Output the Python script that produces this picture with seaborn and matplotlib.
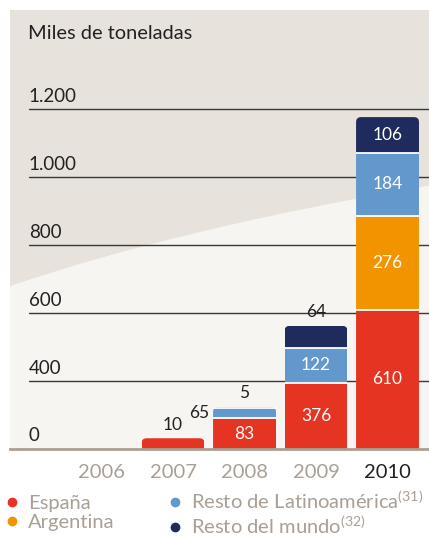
import numpy as np
import matplotlib
matplotlib.use('Agg')
import matplotlib.pyplot as plt
import seaborn as sns
from matplotlib.patches import FancyBboxPatch, PathPatch
from matplotlib.path import Path
from matplotlib.lines import Line2D
from matplotlib.transforms import Bbox, IdentityTransform

# data (miles de toneladas)
years = ['2006', '2007', '2008', '2009', '2010']
series = ['España', 'Argentina', 'Resto de Latinoamérica', 'Resto del mundo']
espana = [0, 10, 83, 376, 610]
argentina = [0, 0, 0, 0, 276]
resto_latam = [0, 0, 65, 122, 184]
resto_mundo = [0, 0, 5, 64, 106]
notes = ['', '', '(31)', '(32)']
grid_values = [400, 600, 800, 1000, 1200]
grid_labels = ['400', '600', '800', '1.000', '1.200']

colors = ['#e53422', '#f29400', '#6398cd', '#1f2b5c']
GREY = '#a99f95'
DARK = '#222222'

sns.set_theme(style='white')
plt.rcParams['font.family'] = ['Lato', 'DejaVu Sans']
plt.rcParams['mathtext.fontset'] = 'custom'
plt.rcParams['mathtext.rm'] = 'Lato'


# broken axis like the original: compressed below 400, linear above
def fwd(v):
    v = np.asarray(v, dtype=float)
    low = 68 * np.sqrt(np.clip(v, 0, None) / 400)
    return np.where(v < 400, low, 68 + (v - 400) * 0.34)


def inv(p):
    p = np.asarray(p, dtype=float)
    low = 400 * (np.clip(p, 0, None) / 68) ** 2
    return np.where(p < 68, low, 400 + (p - 68) / 0.34)


fig = plt.figure(figsize=(4.29, 5.37), dpi=100)
ax = fig.add_axes([10 / 429, 88 / 537, 419 / 429, 439 / 537])
ax.set_facecolor('#e7e2dc')

# lighter curved area in the lower part of the panel
curve = Path([(0, 0.371), (0.4, 0.502), (1, 0.60), (1, 0), (0, 0), (0, 0.371)],
             [Path.MOVETO, Path.CURVE3, Path.CURVE3, Path.LINETO, Path.LINETO, Path.CLOSEPOLY])
ax.add_patch(PathPatch(curve, transform=ax.transAxes, facecolor='#f7f5f1',
                       edgecolor='none', zorder=0))

stack = [espana, argentina, resto_latam, resto_mundo]
bottoms = np.zeros(len(years))
for vals, col in zip(stack, colors):
    sns.barplot(x=years, y=vals, bottom=bottoms.copy(), color=col, saturation=1,
                width=0.88, linewidth=0, errorbar=None, ax=ax, zorder=2)
    bottoms += np.array(vals)

ax.set_yscale('function', functions=(fwd, inv))
ax.set_ylim(0, 1491)
ax.set_xlim(-1.28, 4.58)
ax.set_yticks([])
ax.set_xlabel('')
ax.set_ylabel('')

for y, lab in zip(grid_values, grid_labels):
    ax.axhline(y, xmin=0.045, xmax=1, color='#383838', lw=1, zorder=1)
    ax.annotate(lab, xy=(0.045, y), xycoords=('axes fraction', 'data'),
                xytext=(0, 5), textcoords='offset points', va='baseline',
                ha='left', fontsize=13.5, color=DARK)
ax.annotate('0', xy=(0.045, 0), xycoords=('axes fraction', 'data'),
            xytext=(0, 6), textcoords='offset points', va='baseline',
            ha='left', fontsize=13.5, color=DARK)

for side in ['top', 'left', 'right']:
    ax.spines[side].set_visible(False)
ax.spines['bottom'].set_color('#ab9f93')
ax.spines['bottom'].set_linewidth(2)

ax.set_xticks(range(len(years)))
ax.set_xticklabels(years, fontsize=14.5, color=GREY)
ax.get_xticklabels()[-1].set_color(DARK)
ax.tick_params(axis='x', length=0, pad=11)

fig.text(28 / 429, 1 - 39 / 537, 'Miles de toneladas', fontsize=14.4,
         color=DARK, va='baseline', ha='left')

# separators, value labels and rounded tops
for i in range(len(years)):
    patches = [ax.containers[k][i] for k in range(len(stack)) if stack[k][i] > 0]
    if not patches:
        continue
    base = 0
    n_on = 0
    tops = [k for k in range(len(stack)) if stack[k][i] > 0]
    for k in range(len(stack)):
        v = stack[k][i]
        if v <= 0:
            continue
        bar = ax.containers[k][i]
        xc = bar.get_x() + bar.get_width() / 2
        if n_on > 0:
            ax.hlines(base, bar.get_x(), bar.get_x() + bar.get_width(),
                      color='white', lw=1.3, zorder=3)
        px = fwd(base + v) - fwd(base)
        if px > 25:
            ym = float(inv((fwd(base) + fwd(base + v)) / 2))
            ax.text(xc, ym, str(v), ha='center', va='center', color='white',
                    fontsize=12.5, zorder=4)
        elif k == tops[-1]:
            ax.annotate(str(v), xy=(xc, base + v), xytext=(0, 4),
                        textcoords='offset points', ha='center', va='bottom',
                        fontsize=12.5, color=DARK)
        else:
            ym = float(inv((fwd(base) + fwd(base + v)) / 2))
            ax.annotate(str(v), xy=(bar.get_x(), ym), xytext=(-3, 0),
                        textcoords='offset points', ha='right', va='center',
                        fontsize=12.5, color=DARK)
        base += v
        n_on += 1
    bb = Bbox.union([p.get_window_extent() for p in patches])
    clip = FancyBboxPatch((bb.x0, bb.y0 - 10), bb.width, bb.height + 10,
                          boxstyle='round,pad=0,rounding_size=5',
                          transform=IdentityTransform())
    for p in patches:
        p.set_clip_path(clip)

handles = [Line2D([], [], marker='o', ls='', color=c, markersize=6) for c in colors]
labels = [s + (f'$^{{{n}}}$' if n else '') for s, n in zip(series, notes)]
fig.legend(handles, labels, ncol=2, loc='upper left', bbox_to_anchor=(2 / 429, 1 - 489 / 537),
           frameon=False, fontsize=14.5, labelcolor=GREY, handlelength=1.0,
           handletextpad=0.3, columnspacing=2.5, borderpad=0, borderaxespad=0,
           labelspacing=0.12)

fig.savefig('out.png', dpi=100)
